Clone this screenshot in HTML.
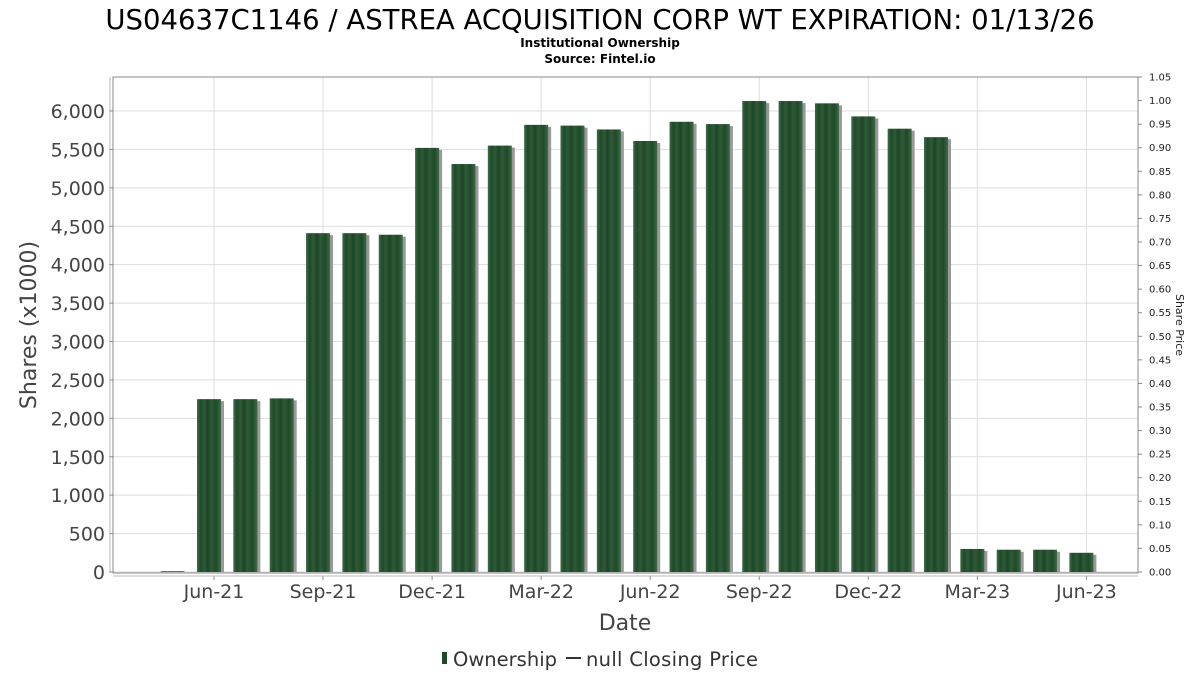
<!DOCTYPE html>
<html><head><meta charset="utf-8"><style>
body{margin:0;background:#fff;width:1200px;height:675px;overflow:hidden;font-family:"DejaVu Sans","Liberation Sans",sans-serif}
</style></head><body>
<svg id="chart" width="1200" height="675" xmlns="http://www.w3.org/2000/svg" font-family="DejaVu Sans, Liberation Sans, sans-serif">
<text x="600" y="29" text-anchor="middle" font-size="27.5" fill="#000">US04637C1146 / ASTREA ACQUISITION CORP WT EXPIRATION: 01/13/26</text>
<text x="600" y="47" text-anchor="middle" font-size="12" font-weight="bold" fill="#000">Institutional Ownership</text>
<text x="600" y="63" text-anchor="middle" font-size="12" font-weight="bold" fill="#000">Source: Fintel.io</text>
<g id="grid"></g>
<g id="bars"></g>
<g id="axes"></g>
<text transform="translate(36,325) rotate(-90)" text-anchor="middle" font-size="22" fill="#444">Shares (x1000)</text>
<text transform="translate(1176,325) rotate(90)" text-anchor="middle" font-size="11" fill="#222">Share Price</text>
<text x="625" y="630" text-anchor="middle" font-size="22" fill="#444">Date</text>
<g>
<rect x="442" y="652" width="5" height="12" fill="#1f4a2a"/>
<text x="453" y="666" font-size="19.5" fill="#333">Ownership</text>
<line x1="566" y1="658" x2="581" y2="658" stroke="#333" stroke-width="2"/>
<text x="586" y="666" font-size="19.5" fill="#333" textLength="172">null Closing Price</text>
</g>
</svg>
<script>
const shares = [10,2250,2250,2260,4410,4410,4390,5520,5310,5550,5820,5810,5760,5610,5860,5830,6130,6130,6100,5930,5770,5660,300,290,290,250];
const yTicks = [0,500,1000,1500,2000,2500,3000,3500,4000,4500,5000,5500,6000];
const y2Ticks = ["0.00","0.05","0.10","0.15","0.20","0.25","0.30","0.35","0.40","0.45","0.50","0.55","0.60","0.65","0.70","0.75","0.80","0.85","0.90","0.95","1.00","1.05"];
const xLabels = ["Jun-21","Sep-21","Dec-21","Mar-22","Jun-22","Sep-22","Dec-22","Mar-23","Jun-23"];
const NS="http://www.w3.org/2000/svg";
const L=113,R=1138,T=77,B=573;
const y=v=>572-v*0.07683;
const y2=p=>572-p*(572-77)/1.05;
const xm=m=>214+m*36.35;
function mk(tag,attrs,parent){const e=document.createElementNS(NS,tag);for(const k in attrs)e.setAttribute(k,attrs[k]);parent.appendChild(e);return e;}
const grid=document.getElementById('grid'),bars=document.getElementById('bars'),axes=document.getElementById('axes');
let bg=mk('rect',{x:L,y:T,width:R-L,height:B-T,fill:'#fff'},grid);


yTicks.forEach(v=>{
  const g=mk('line',{x1:L,x2:R,y1:y(v),y2:y(v),stroke:'#ddd'},grid);
  
  
  mk('line',{x1:L-4,x2:L,y1:y(v),y2:y(v),stroke:'#888'},axes);
  const t=mk('text',{x:L-8,y:y(v)+7,'text-anchor':'end','font-size':'19',fill:'#444'},axes);
  t.textContent=v.toLocaleString('en-US');
  
  
});
xLabels.forEach((s,i)=>{
  const x=xm(i*3);
  const g=mk('line',{x1:x,x2:x,y1:T,y2:B,stroke:'#ddd'},grid);
  
  
  mk('line',{x1:x,x2:x,y1:B+3,y2:B+7,stroke:'#888'},axes);
  const t=mk('text',{x:x,y:598,'text-anchor':'middle','font-size':'19',fill:'#444'},axes);
  t.textContent=s;
  
  
});
y2Ticks.forEach(p=>{
  const yy=y2(parseFloat(p));
  mk('line',{x1:R,x2:R+4,y1:yy,y2:yy,stroke:'#888'},axes);
  const t=mk('text',{x:R+11,y:yy+3.5,'font-size':'10',fill:'#222'},axes);
  t.textContent=p;
  
  
});
mk('rect',{x:L,y:T,width:R-L,height:B-T,fill:'none',stroke:'#888'},axes);
mk('line',{x1:L-3,x2:L-3,y1:T,y2:B,stroke:'#bbb'},axes);
mk('line',{x1:L,x2:R,y1:B+3,y2:B+3,stroke:'#bbb'},axes);
let defs=mk('defs',{},bars);
let pat=mk('linearGradient',{id:'stripe',x1:0,x2:1,y1:0,y2:0},defs);
[[0,'#3d6b45'],[0.15,'#1f4a2a'],[0.3,'#2f5a37'],[0.45,'#1d4527'],[0.6,'#2f5a37'],[0.8,'#1f4a2a'],[1,'#3d6b45']].forEach(s=>mk('stop',{offset:s[0],'stop-color':s[1]},pat));
shares.forEach((v,i)=>{
  const x=xm(i-1)-17, top=y(v), h=572-top;
  const sh=mk('rect',{x:x+3,y:top+2,width:24,height:Math.max(h-2,0),fill:'#999'},bars);
  
  
  const b=mk('rect',{x:x,y:top,width:24,height:h,fill:'url(#stripe)'},bars);
  
  
});
</script>
</body></html>
